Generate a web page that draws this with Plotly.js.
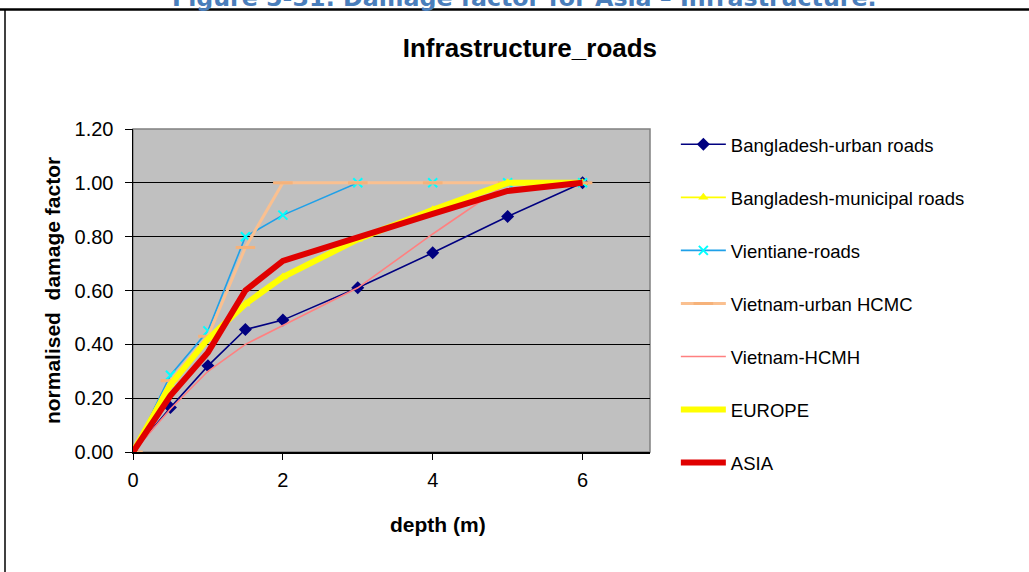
<!DOCTYPE html>
<html>
<head>
<meta charset="utf-8">
<script src="https://cdn.plot.ly/plotly-3.0.1.min.js"></script>
<style>html,body{margin:0;padding:0;background:#fff;}#chart{width:1029px;height:572px;}</style>
</head>
<body>
<div id="chart"></div>
<script>
// depth (m)
const depth = [0, 0.5, 1, 1.5, 2, 3, 4, 5, 6];

// series values (normalised damage factor)
const bangladeshUrban     = [0, 0.165, 0.32, 0.455, 0.49, 0.61, 0.74, 0.875, 1.0];
const bangladeshMunicipal = [0, 0.25, 0.42, 0.55, 0.65, 0.79, 0.90, 1.0, 1.0];
const vientiane           = [0, 0.285, 0.45, 0.80, 0.88, 1.0, 1.0, 1.0, 1.0];
const vietnamUrbanHCMC    = [0, 0.265, 0.43, 0.76, 1.0, 1.0, 1.0, 1.0, 1.0];
const vietnamHCMH         = [0, 0.16, 0.30, 0.40, 0.47, 0.61, 0.81, 1.0, 1.0];
const europe              = [0, 0.25, 0.42, 0.55, 0.65, 0.79, 0.90, 1.0, 1.0];
const asia                = [0, 0.21, 0.37, 0.60, 0.71, 0.80, 0.885, 0.97, 1.0];

const seriesNames = ["Bangladesh-urban roads", "Bangladesh-municipal roads", "Vientiane-roads",
  "Vietnam-urban HCMC", "Vietnam-HCMH", "EUROPE", "ASIA"];

const yTickVals = [0, 0.2, 0.4, 0.6, 0.8, 1.0, 1.2];
const yTickText = ["0.00", "0.20", "0.40", "0.60", "0.80", "1.00", "1.20"];
const xTickVals = [0, 2, 4, 6];

const headerText = "Figure 5-31: Damage factor for Asia \u2013 Infrastructure.";
const chartTitle = "Infrastructure_roads";
const xTitle = "depth (m)";
const yTitle = "normalised  damage factor";

const traces = [
  {x: depth, y: bangladeshUrban, name: seriesNames[0], mode: "lines+markers",
   line: {color: "#000080", width: 1.6}, marker: {symbol: "diamond", size: 10, color: "#000080"}},
  {x: depth, y: bangladeshMunicipal, name: seriesNames[1], mode: "lines+markers",
   line: {color: "#ffff00", width: 1.6}, marker: {symbol: "triangle-up", size: 9, color: "#ffff00"}},
  {x: depth, y: vientiane, name: seriesNames[2], mode: "lines+markers",
   line: {color: "#1fa0e8", width: 1.6}, marker: {symbol: "x-thin", size: 9, color: "#00ffff", line: {color: "#00ffff", width: 2}}},
  {x: depth, y: vietnamUrbanHCMC, name: seriesNames[3], mode: "lines+markers",
   line: {color: "#fac090", width: 3}, marker: {symbol: "line-ew", size: 14, color: "#fac090", line: {color: "#f6b27a", width: 3}}},
  {x: depth, y: vietnamHCMH, name: seriesNames[4], mode: "lines",
   line: {color: "#ff8080", width: 1.6}},
  {x: depth, y: europe, name: seriesNames[5], mode: "lines",
   line: {color: "#ffff00", width: 6}},
  {x: depth, y: asia, name: seriesNames[6], mode: "lines",
   line: {color: "#e00000", width: 6}}
];
traces.forEach((t, i) => { t.type = "scatter"; t.legendgroup = "g" + i; t.hoverinfo = "skip"; });

const font = "Liberation Sans, Arial, sans-serif";

const layout = {
  width: 1029, height: 572,
  margin: {l: 133, r: 379, t: 129, b: 120},
  paper_bgcolor: "#ffffff",
  plot_bgcolor: "#c0c0c0",
  font: {family: font, color: "#000", size: 20},
  showlegend: true,
  title: {text: chartTitle, font: {family: font, size: 26, color: "#000", weight: "bold"},
          x: 0.515, xanchor: "center", y: 1 - 48/572, yanchor: "middle"},
  xaxis: {range: [0, 6.9], tickvals: xTickVals, ticks: "outside", ticklen: 6, tickcolor: "#000",
          showgrid: false, zeroline: false, showline: true, linecolor: "#000", linewidth: 2,
          tickfont: {size: 20, family: font}, ticklabelstandoff: 3, fixedrange: true},
  yaxis: {range: [0, 1.2], tickvals: yTickVals, ticktext: yTickText, ticks: "outside", ticklen: 7,
          tickcolor: "#000", showgrid: true, gridcolor: "#000", gridwidth: 1.3, zeroline: false,
          showline: true, linecolor: "#000", linewidth: 1.5,
          tickfont: {size: 20, family: font}, ticklabelstandoff: 7,
          title: {text: yTitle, font: {size: 21, family: font, weight: "bold"}, standoff: 8}, fixedrange: true},
  legend: {x: 1.05, xanchor: "left", y: 1.010, yanchor: "top", font: {size: 18.5, family: font, color: "#000"},
           tracegroupgap: 26, itemwidth: 45, maxheight: 700, bgcolor: "rgba(0,0,0,0)", itemclick: false, itemdoubleclick: false},
  shapes: [
    {type: "rect", xref: "paper", yref: "paper", x0: 0, x1: 1, y0: 0, y1: 1, line: {color: "#808080", width: 1.5}, layer: "below"},
    {type: "line", xref: "paper", yref: "paper", x0: -133/517, x1: (1029-133)/517, y0: (452-9.5)/323, y1: (452-9.5)/323, line: {color: "#000", width: 2.5}},
    {type: "line", xref: "paper", yref: "paper", x0: -128/517, x1: -128/517, y0: (452-9)/323, y1: -120/323, line: {color: "#000", width: 1.5}}
  ],
  annotations: [
    {text: headerText, xref: "paper", yref: "paper", x: (524-133)/517, y: (452+2)/323, xanchor: "center", yanchor: "middle",
     showarrow: false, font: {family: "DejaVu Sans, Verdana, sans-serif", size: 23.7, color: "#4a7ebb", weight: "bold"}},
    {text: xTitle, xref: "paper", yref: "paper", x: (438-133)/517, y: (452-524)/323, xanchor: "center", yanchor: "middle",
     showarrow: false, font: {family: font, size: 21, color: "#000", weight: "bold"}}
  ]
};

Plotly.newPlot("chart", traces, layout, {displayModeBar: false, staticPlot: true});
</script>
</body>
</html>
